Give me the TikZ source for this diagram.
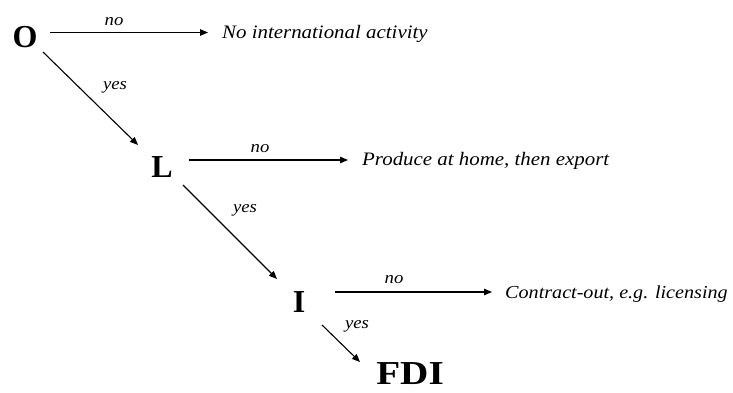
\documentclass[tikz,border=0pt]{standalone}
\usepackage{fontspec}
\setmainfont{Liberation Serif}
\newfontfamily\itf{Liberation Serif}[FakeStretch=1.1]
\newfontfamily\fdif{Liberation Serif}[FakeStretch=1.17]
\usetikzlibrary{arrows.meta}
\tikzset{
  big/.style={font=\fontsize{32}{32}\selectfont\bfseries, inner sep=0pt, anchor=base},
  outcome/.style={font=\fontsize{19}{19}\selectfont\itf\itshape, inner sep=0pt, anchor=base west},
  lab/.style={font=\fontsize{17}{17}\selectfont\itf\itshape, inner sep=0pt, anchor=base},
  arr/.style={-{Triangle[length=8pt,width=6.5pt]}, line width=1.1pt}
}
\begin{document}
\begin{tikzpicture}[x=1pt,y=-1pt]
\useasboundingbox (0,0) rectangle (733,392);
% main nodes
\node[big] (O) at (25,47.5) {O};
\node[big] (L) at (162,177) {L};
\node[big] (I) at (299,312) {I};
\node[big, font=\fontsize{33.5}{33.5}\selectfont\fdif\bfseries] (F) at (410,384.5) {FDI};
% outcomes
\node[outcome] (t1) at (222,38) {No international activity};
\node[outcome] (t2) at (362,165) {Produce at home, then export};
\node[outcome, font=\fontsize{18.3}{18.3}\selectfont\itf\itshape] (t3) at (505,298) {Contract-out, e.g. licensing};
% labels
\node[lab] (n1) at (114,25) {no};
\node[lab] (y1) at (115,89) {yes};
\node[lab] (n2) at (260,152) {no};
\node[lab] (y2) at (245,212) {yes};
\node[lab] (n3) at (394,283) {no};
\node[lab] (y3) at (357,328) {yes};
% connectors
\draw[arr] ([shift={(25,-15)}]O.base) -- ([shift={(-14,-5.5)}]t1.base west);
\draw[arr] ([shift={(18,4.5)}]O.base) -- ([shift={(-24,-32)}]L.base);
\draw[arr] ([shift={(27,-17)}]L.base) -- ([shift={(-14,-5)}]t2.base west);
\draw[arr] ([shift={(21,8)}]L.base) -- ([shift={(-22,-33)}]I.base);
\draw[arr] ([shift={(36,-20)}]I.base) -- ([shift={(-13,-6)}]t3.base west);
\draw[arr] ([shift={(23,13)}]I.base) -- ([shift={(-50,-22.5)}]F.base);
\end{tikzpicture}
\end{document}
